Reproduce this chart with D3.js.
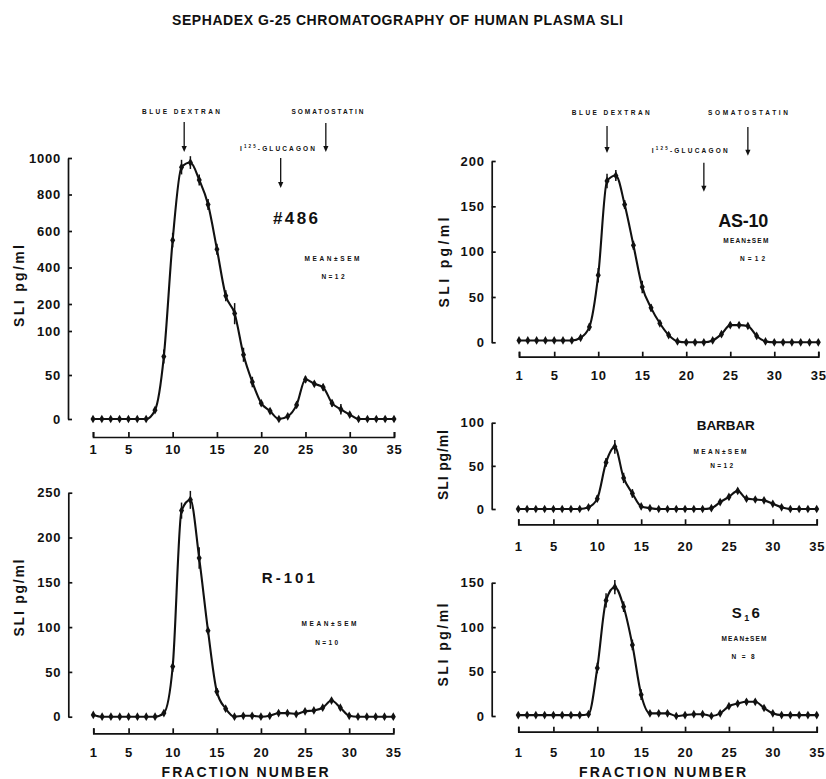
<!DOCTYPE html>
<html><head><meta charset="utf-8">
<script src="https://cdn.jsdelivr.net/npm/d3@7"></script>
<style>
body{margin:0;background:#fff}
svg{display:block;background:#fff}
text{font-family:"Liberation Sans",Arial,Helvetica,sans-serif;font-weight:bold;fill:#111}
</style>
</head><body>
<svg id="chart" width="826" height="779"></svg>
<script>
// ---------- DATA ----------
const fractions = [1,2,3,4,5,6,7,8,9,10,11,12,13,14,15,16,17,18,19,20,21,22,23,24,25,26,27,28,29,30,31,32,33,34,35];
const xTickValues = [1,5,10,15,20,25,30,35];

const p486Values = [0,0,0,0,0,0,0,10,71,550,950,975,880,745,500,245,165,73,42,18,9,0,3,16,45,40,36,18,11,5,0,0,0,0,0];
const p486Sem    = [0,0,0,0,0,0,0,2,8,40,40,35,30,30,30,30,40,8,6,3,3,0,1,2,4,3,4,4,6,3,0,0,0,0,0];
const p486YTicks = [0,50,100,200,400,600,800,1000];

const as10Values = [2,2,2,2,2,2,2,5,17,74,178,184,152,107,61,38,21,8,1,0,0,0,2,9,19,19,18,7,1,0,0,0,0,0,0];
const as10Sem    = [0,0,0,0,0,0,0,1,4,8,8,6,5,5,7,4,3,2,0,0,0,0,0,2,3,3,3,1,0,0,0,0,0,0,0];
const as10YTicks = [0,50,100,150,200];

const r101Values = [2,0,0,0,0,0,0,0,4,56,230,242,177,96,28,9,0,1,1,0,1,4,4,3,6,7,10,18,10,1,0,0,0,0,0];
const r101Sem    = [0,0,0,0,0,0,0,0,1,6,9,10,12,0,4,2,0,0,0,0,0,1,1,1,1,1,1,2,1,0,0,0,0,0,0];
const r101YTicks = [0,50,100,150,200,250];

const barbarValues = [0,0,0,0,0,0,0,0,2,12,54,72,36,18,3,1,0,0,0,0,0,0,1,8,14,21,12,11,10,6,2,0,0,0,0];
const barbarSem    = [0,0,0,0,0,0,0,0,1,4,5,8,6,5,1,0,0,0,0,0,0,0,0,2,3,3,2,2,2,1,0,0,0,0,0];
const barbarYTicks = [0,50,100];

const s16Values = [1,1,1,1,1,1,1,1,2,54,130,145,123,80,24,3,3,3,0,1,2,2,0,3,11,14,16,16,9,3,1,1,1,1,1];
const s16Sem    = [0,0,0,0,0,0,0,0,1,6,8,8,6,6,6,1,1,1,0,0,0,0,0,1,2,2,3,3,1,1,0,0,0,0,0];
const s16YTicks = [0,50,100,150];

const markerLabels = ["BLUE DEXTRAN","-GLUCAGON","SOMATOSTATIN"];
const tlMarkerFractions = [11.3, 22.2, 27.3];
const trMarkerFractions = [11, 22, 27];

const titleText = "SEPHADEX G-25 CHROMATOGRAPHY OF HUMAN PLASMA SLI";
const yAxisTitle = "SLI pg/ml";
const xAxisTitle = "FRACTION NUMBER";

// ---------- LAYOUT ----------
const panels = [
  {label:"#486", values:p486Values, sem:p486Sem, yTicks:p486YTicks,
   yDomain:[0,100,200,1000], yRange:[419,331,304,158], yAxisX:68, xRange:[93,394], xAxisY:437, xLabBase:454,
   ylab:{x:24, y:286, len:82},
   tag:{x:295.5, y:224, size:17, len:45}, mean:{x:332, y:260.5, len:55}, n:{x:333, y:278.5, len:23, t:"N=12"}},
  {label:"AS-10", values:as10Values, sem:as10Sem, yTicks:as10YTicks,
   yDomain:[0,200], yRange:[342.3,161], yAxisX:491.7, xRange:[519,818.3], xAxisY:356.7, xLabBase:380,
   ylab:{x:449, y:262.5, len:90},
   tag:{x:743.3, y:226.5, size:18, len:50}, mean:{x:745.8, y:243, len:45}, n:{x:752.5, y:260.5, len:25, t:"N=12"}},
  {label:"R-101", values:r101Values, sem:r101Sem, yTicks:r101YTicks,
   yDomain:[0,250], yRange:[716.7,492.7], yAxisX:68.3, xRange:[93.3,393.3], xAxisY:733.3, xLabBase:757,
   ylab:{x:24, y:598, len:77},
   tag:{x:288.3, y:583, size:15, len:53}, mean:{x:329, y:626, len:55}, n:{x:326.7, y:645, len:23, t:"N=10"},
   xtitle:{x:245, y:777, len:167}},
  {label:"BARBAR", values:barbarValues, sem:barbarSem, yTicks:barbarYTicks,
   yDomain:[0,100], yRange:[509,422.7], yAxisX:491.7, xRange:[518.3,816.7], xAxisY:524.3, xLabBase:551,
   ylab:{x:448, y:465, len:70},
   tag:{x:725.8, y:430, size:13.5, len:58}, mean:{x:720, y:454, len:53}, n:{x:721.7, y:468, len:23, t:"N=12"}},
  {label:"S16", values:s16Values, sem:s16Sem, yTicks:s16YTicks,
   yDomain:[0,150], yRange:[716,582.7], yAxisX:491.7, xRange:[518.3,816.7], xAxisY:731.7, xLabBase:757,
   ylab:{x:448, y:645, len:83},
   tag:{x:745.8, y:618, size:15, len:28, sub:true}, mean:{x:744, y:641, len:45}, n:{x:743, y:659, len:23, t:"N=8"},
   xtitle:{x:662.5, y:777, len:167}}
];

const svg = d3.select("#chart");
const INK = "#111";

svg.append("text").attr("x",172).attr("y",25).attr("font-size",14)
  .attr("textLength",451).attr("lengthAdjust","spacing").text(titleText);

panels.forEach(p => {
  const g = svg.append("g");
  const x = d3.scaleLinear().domain([1,35]).range(p.xRange);
  const y = d3.scaleLinear().domain(p.yDomain).range(p.yRange);

  // y axis
  const ya = g.append("g").attr("transform",`translate(${p.yAxisX},0)`)
    .call(d3.axisLeft(y).tickValues(p.yTicks).tickFormat(d3.format("d"))
      .tickSizeInner(-4).tickSizeOuter(0).tickPadding(7));
  ya.selectAll("path,line").attr("stroke",INK).attr("stroke-width",1.7);
  ya.selectAll("text").attr("font-size",13).attr("font-family",null).attr("fill",INK).attr("letter-spacing",0.8);

  // x axis
  const pad = p.xLabBase - p.xAxisY - 0.71*13;
  const xa = g.append("g").attr("transform",`translate(0,${p.xAxisY})`)
    .call(d3.axisBottom(x).tickValues(xTickValues).tickFormat(d3.format("d"))
      .tickSizeInner(-5).tickSizeOuter(-5).tickPadding(pad));
  xa.selectAll("path,line").attr("stroke",INK).attr("stroke-width",1.7);
  xa.selectAll("text").attr("font-size",13).attr("font-family",null).attr("fill",INK).attr("letter-spacing",0.8);

  // y title
  g.append("text").attr("transform",`translate(${p.ylab.x},${p.ylab.y}) rotate(-90)`)
    .attr("text-anchor","middle").attr("font-size",14)
    .attr("textLength",p.ylab.len).attr("lengthAdjust","spacing").text(yAxisTitle);

  if (p.xtitle) {
    g.append("text").attr("x",p.xtitle.x).attr("y",p.xtitle.y).attr("text-anchor","middle")
      .attr("font-size",14).attr("textLength",p.xtitle.len).attr("lengthAdjust","spacing").text(xAxisTitle);
  }

  const data = fractions.map((f,i) => ({f, v:p.values[i], s:p.sem[i]}));

  // error bars
  g.append("g").selectAll("line").data(data.filter(d => d.s > 0)).join("line")
    .attr("x1",d => x(d.f)).attr("x2",d => x(d.f))
    .attr("y1",d => y(Math.max(0,d.v - d.s))).attr("y2",d => y(d.v + d.s))
    .attr("stroke",INK).attr("stroke-width",1.5);

  // curve
  g.append("path").datum(data)
    .attr("d", d3.line().x(d => x(d.f)).y(d => y(d.v)).curve(d3.curveMonotoneX))
    .attr("fill","none").attr("stroke",INK).attr("stroke-width",2.1).attr("stroke-linejoin","round");

  // points
  g.append("g").selectAll("path").data(data).join("path")
    .attr("transform",d => `translate(${x(d.f)},${y(d.v)})`)
    .attr("d", d3.symbol().type(d3.symbolDiamond).size(22))
    .attr("fill",INK);

  // labels
  const tag = g.append("text").attr("x",p.tag.x).attr("y",p.tag.y).attr("text-anchor","middle")
    .attr("font-size",p.tag.size).attr("textLength",p.tag.len).attr("lengthAdjust","spacing");
  if (p.tag.sub) {
    tag.append("tspan").text("S");
    tag.append("tspan").attr("font-size",p.tag.size*0.6).attr("dy",3).text("1");
    tag.append("tspan").attr("dy",-3).text("6");
  } else tag.text(p.label);

  g.append("text").attr("x",p.mean.x).attr("y",p.mean.y).attr("text-anchor","middle")
    .attr("font-size",6.5).attr("textLength",p.mean.len).attr("lengthAdjust","spacing").text("MEAN±SEM");
  g.append("text").attr("x",p.n.x).attr("y",p.n.y).attr("text-anchor","middle")
    .attr("font-size",6.5).attr("textLength",p.n.len).attr("lengthAdjust","spacing").text(p.n.t);

  p.x = x;
});

// ---------- elution markers (arrows) ----------
const markerLayouts = [
  {panel:0, fr:tlMarkerFractions,
   arrows:[[122,152],[158,188],[123,152]],
   labels:[{cx:181,y:114,len:78},{x0:240,y:151,len:75},{cx:327.5,y:114,len:72}]},
  {panel:1, fr:trMarkerFractions,
   arrows:[[126,153],[162.7,191.7],[127,155.7]],
   labels:[{cx:610.8,y:115,len:78},{x0:651.7,y:153,len:76},{cx:748,y:115,len:80}]}
];
markerLayouts.forEach(m => {
  const x = panels[m.panel].x;
  m.fr.forEach((f,i) => {
    const ax = x(f), [y1,y2] = m.arrows[i];
    svg.append("line").attr("x1",ax).attr("x2",ax).attr("y1",y1).attr("y2",y2-4)
      .attr("stroke",INK).attr("stroke-width",1.3);
    svg.append("path").attr("d",`M${ax-2.6},${y2-6}L${ax+2.6},${y2-6}L${ax},${y2}Z`).attr("fill",INK);
    const L = m.labels[i];
    if (i === 1) {
      const t = svg.append("text").attr("x",L.x0).attr("y",L.y).attr("font-size",6.5)
        .attr("textLength",L.len).attr("lengthAdjust","spacing");
      t.append("tspan").text("I");
      t.append("tspan").attr("font-size",4.5).attr("dy",-3).text("125");
      t.append("tspan").attr("dy",3).text(markerLabels[1]);
    } else {
      svg.append("text").attr("x",L.cx).attr("y",L.y).attr("text-anchor","middle").attr("font-size",6.5)
        .attr("textLength",L.len).attr("lengthAdjust","spacing").text(markerLabels[i]);
    }
  });
});
</script>
</body></html>
